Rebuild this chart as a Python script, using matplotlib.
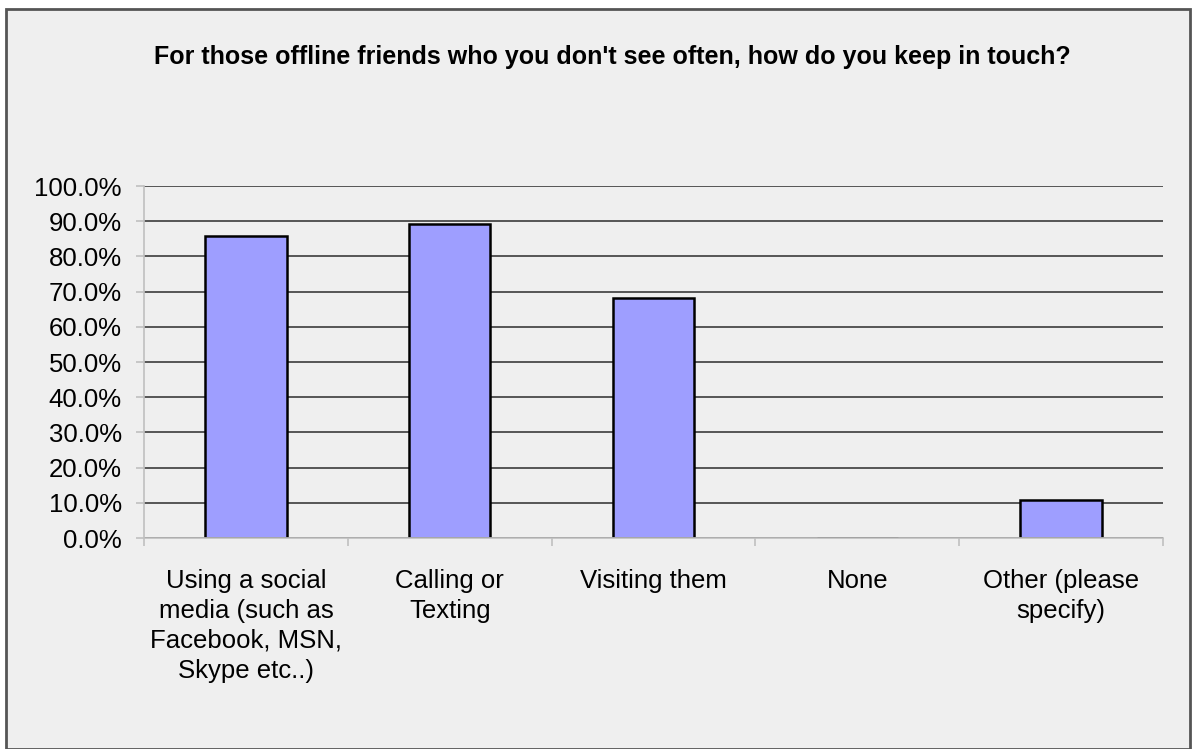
import matplotlib.pyplot as plt
from matplotlib.patches import Rectangle
from matplotlib.ticker import FuncFormatter, MultipleLocator

categories = ["Using a social\nmedia (such as\nFacebook, MSN,\nSkype etc..)",
              "Calling or\nTexting", "Visiting them", "None",
              "Other (please\nspecify)"]
values = [85.9, 89.2, 68.2, 0.0, 10.8]
title = "For those offline friends who you don't see often, how do you keep in touch?"

plt.rcParams["font.family"] = ["Liberation Sans", "DejaVu Sans"]

W, H = 1192, 749
fig = plt.figure(figsize=(W / 100, H / 100), dpi=100, facecolor="white")

# outer chart box, behind the axes
box = Rectangle((6 / W, 0), (1190 - 6) / W, (H - 9) / H,
                transform=fig.transFigure, facecolor="#efefef",
                edgecolor="#555555", linewidth=2)
box.set_zorder(-10)
fig.add_artist(box)

ax = fig.add_axes([144 / W, 1 - 538 / H, (1163 - 144) / W, (538 - 186) / H])
ax.set_zorder(1)
ax.set_facecolor("none")

x = list(range(len(categories)))
ax.bar(x, values, width=0.40, color="#9e9eff", edgecolor="black",
       linewidth=1.8, zorder=2)

ax.set_xlim(-0.5, len(categories) - 0.5)
ax.set_ylim(0, 100)
ax.yaxis.set_major_locator(MultipleLocator(10))
ax.yaxis.set_major_formatter(FuncFormatter(lambda v, p: f"{v:.1f}%"))
ax.grid(axis="y", color="#3c3c3c", linewidth=1.2, zorder=1)
ax.set_axisbelow(True)

for s in ["top", "right"]:
    ax.spines[s].set_visible(False)
for s in ["left", "bottom"]:
    ax.spines[s].set_color("#c0c0c0")
    ax.spines[s].set_linewidth(1.2)
    ax.spines[s].set_zorder(2.5)

ax.set_xticks(x)
ax.set_xticklabels(categories, fontsize=18.5, linespacing=1.32, va="top")
ax.set_xticks([i - 0.5 for i in range(len(categories) + 1)], minor=True)
ax.tick_params(axis="x", which="major", length=0, pad=22)
ax.tick_params(axis="x", which="minor", length=6, color="#c0c0c0", width=1.2)
ax.tick_params(axis="y", length=6, color="#c0c0c0", width=1.2,
               labelsize=18.5, pad=10)

fig.text(612 / W, 1 - 57 / H, title, ha="center", va="center",
         fontsize=18, fontweight="bold")

fig.savefig("out.png", dpi=100, facecolor="white")
